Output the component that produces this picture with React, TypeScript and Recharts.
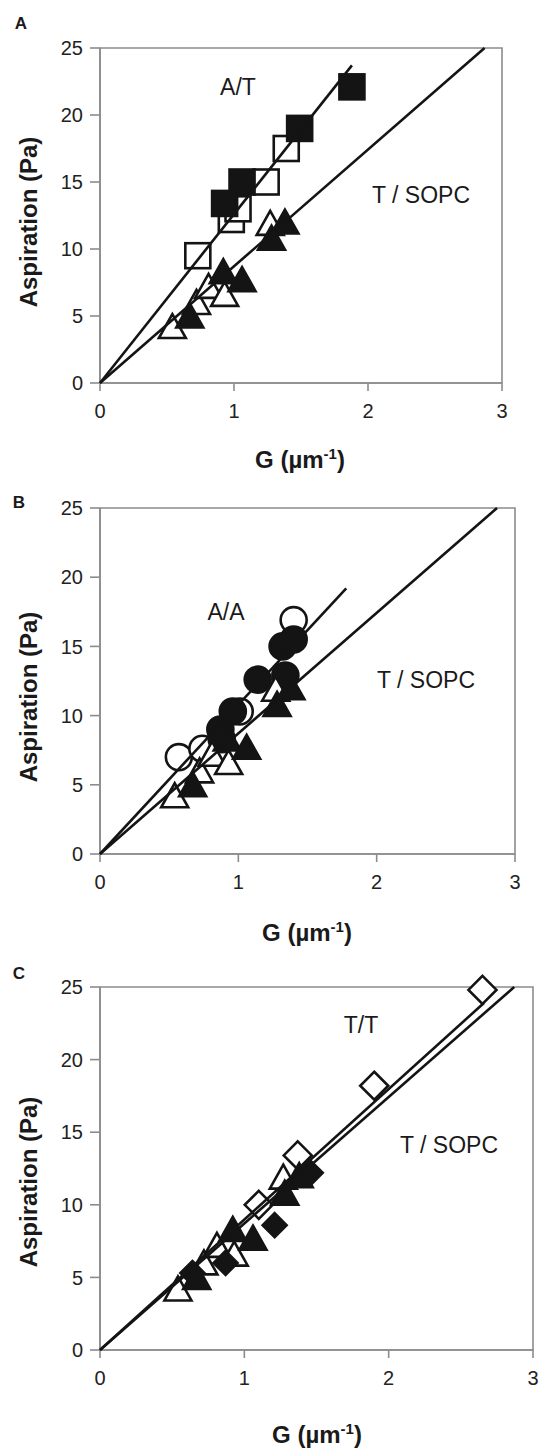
import { ScatterChart, Scatter, XAxis, YAxis, ReferenceArea } from "recharts";

// G (µm^-1) vs aspiration (Pa)
const xTicks = [0, 1, 2, 3];
const yTicks = [0, 5, 10, 15, 20, 25];

// T / SOPC reference set, shown in every panel
const sopcFilled = [
  { g: 0.67, p: 4.9 },
  { g: 0.92, p: 8.2 },
  { g: 1.06, p: 7.6 },
  { g: 1.28, p: 10.7 },
  { g: 1.38, p: 11.9 },
];
const sopcOpen = [
  { g: 0.54, p: 4.1 },
  { g: 0.72, p: 5.9 },
  { g: 0.81, p: 7.1 },
  { g: 0.93, p: 6.5 },
  { g: 1.27, p: 11.8 },
];
const sopcFit = [
  { g: 0, p: 0 },
  { g: 2.87, p: 25 },
];

// panel A: A/T
const atFilled = [
  { g: 0.93, p: 13.4 },
  { g: 1.06, p: 15.0 },
  { g: 1.49, p: 19.0 },
  { g: 1.88, p: 22.1 },
];
const atOpen = [
  { g: 0.73, p: 9.5 },
  { g: 0.98, p: 12.2 },
  { g: 1.03, p: 13.0 },
  { g: 1.24, p: 15.0 },
  { g: 1.39, p: 17.5 },
];
const atFit = [
  { g: 0, p: 0 },
  { g: 1.88, p: 23.7 },
];

// panel B: A/A
const aaFilled = [
  { g: 0.87, p: 9.0 },
  { g: 0.88, p: 8.3 },
  { g: 0.96, p: 10.3 },
  { g: 1.14, p: 12.6 },
  { g: 1.32, p: 15.0 },
  { g: 1.34, p: 12.9 },
  { g: 1.4, p: 15.5 },
];
const aaOpen = [
  { g: 0.57, p: 7.0 },
  { g: 0.74, p: 7.6 },
  { g: 1.01, p: 10.3 },
  { g: 1.4, p: 16.9 },
];
const aaFit = [
  { g: 0, p: 0 },
  { g: 1.78, p: 19.2 },
];

// panel C: T/T
const ttFilled = [
  { g: 0.64, p: 5.3 },
  { g: 0.87, p: 6.0 },
  { g: 1.21, p: 8.6 },
  { g: 1.46, p: 12.2 },
];
const ttOpen = [
  { g: 1.1, p: 10.0 },
  { g: 1.37, p: 13.4 },
  { g: 1.9, p: 18.2 },
  { g: 2.65, p: 24.8 },
];
const ttFit = [
  { g: 0, p: 0 },
  { g: 2.66, p: 23.9 },
];

const FONT = "'Liberation Sans', Arial, Helvetica, sans-serif";
const INK = "#141414";
const AXIS = "#8c8c8c";

const Square = ({ cx, cy, filled }: any) => (
  <rect x={cx - 12.5} y={cy - 12.5} width={25} height={25} fill={filled ? INK : "#fff"} stroke={INK} strokeWidth={2.6} />
);
const Triangle = ({ cx, cy, filled }: any) => (
  <polygon
    points={`${cx},${cy - 14} ${cx + 13.5},${cy + 10} ${cx - 13.5},${cy + 10}`}
    fill={filled ? INK : "#fff"}
    stroke={INK}
    strokeWidth={2.6}
    strokeLinejoin="miter"
  />
);
const Circle = ({ cx, cy, filled }: any) => (
  <circle cx={cx} cy={cy} r={13} fill={filled ? INK : "#fff"} stroke={INK} strokeWidth={2.6} />
);
const Diamond = ({ cx, cy, filled, size = 13 }: any) => (
  <polygon
    points={`${cx},${cy - size} ${cx + size},${cy} ${cx},${cy + size} ${cx - size},${cy}`}
    fill={filled ? INK : "#fff"}
    stroke={INK}
    strokeWidth={2.6}
  />
);
const None = () => <g />;

const Label = ({ x, y, children, style }: any) => (
  <div
    style={{
      position: "absolute",
      left: x,
      top: y,
      transform: "translate(-50%, -50%)",
      whiteSpace: "nowrap",
      fontFamily: FONT,
      color: "#1a1a1a",
      lineHeight: 1,
      ...style,
    }}
  >
    {children}
  </div>
);

const XTitle = ({ x, y }: any) => (
  <Label x={x} y={y} style={{ fontSize: 24, fontWeight: 700 }}>
    G (µm
    <span style={{ fontSize: 15, position: "relative", top: -9 }}>-1</span>)
  </Label>
);
const YTitle = ({ x, y }: any) => (
  <Label x={x} y={y} style={{ fontSize: 24, fontWeight: 700, transform: "translate(-50%, -50%) rotate(-90deg)" }}>
    Aspiration (Pa)
  </Label>
);

const tick = { fill: "#222", fontSize: 20, fontFamily: FONT };

const Panel = ({ top, height, margin, children, overlay }: any) => (
  <div style={{ position: "absolute", left: 0, top, width: 541, height }}>
    <ScatterChart width={541} height={height} margin={margin}>
      <XAxis
        type="number"
        dataKey="g"
        domain={[0, 3]}
        ticks={xTicks}
        height={40}
        tick={tick}
        tickSize={8}
        tickMargin={13}
        axisLine={{ stroke: AXIS, strokeWidth: 1.6 }}
        tickLine={{ stroke: AXIS, strokeWidth: 1.6 }}
      />
      <YAxis
        type="number"
        dataKey="p"
        domain={[0, 25]}
        ticks={yTicks}
        width={60}
        tick={tick}
        tickSize={10}
        tickMargin={7}
        axisLine={{ stroke: AXIS, strokeWidth: 1.6 }}
        tickLine={{ stroke: AXIS, strokeWidth: 1.6 }}
      />
      <ReferenceArea x1={0} x2={3} y1={0} y2={25} fill="none" stroke={AXIS} strokeWidth={1.6} />
      {children}
    </ScatterChart>
    {overlay}
  </div>
);

const lineProps = { stroke: INK, strokeWidth: 2.6 };

export default function App() {
  return (
    <div style={{ position: "absolute", left: 0, top: 0, width: 541, height: 1448, background: "#fff" }}>
      <Panel
        top={0}
        height={480}
        margin={{ top: 48, right: 39, bottom: 57, left: 40 }}
        overlay={
          <>
            <Label x={21} y={23} style={{ fontSize: 17, fontWeight: 700 }}>A</Label>
            <Label x={238} y={87} style={{ fontSize: 23 }}>A/T</Label>
            <Label x={421} y={195} style={{ fontSize: 23 }}>T / SOPC</Label>
            <YTitle x={29} y={222} />
            <XTitle x={300} y={460} />
          </>
        }
      >
        <Scatter data={sopcOpen} shape={(p: any) => <Triangle {...p} />} isAnimationActive={false} />
        <Scatter data={sopcFilled} shape={(p: any) => <Triangle {...p} filled />} isAnimationActive={false} />
        <Scatter data={atOpen} shape={(p: any) => <Square {...p} />} isAnimationActive={false} />
        <Scatter data={atFilled} shape={(p: any) => <Square {...p} filled />} isAnimationActive={false} />
        <Scatter data={sopcFit} line={lineProps} shape={None} isAnimationActive={false} />
        <Scatter data={atFit} line={lineProps} shape={None} isAnimationActive={false} />
      </Panel>

      <Panel
        top={480}
        height={480}
        margin={{ top: 28, right: 26, bottom: 66, left: 40 }}
        overlay={
          <>
            <Label x={19} y={22} style={{ fontSize: 17, fontWeight: 700 }}>B</Label>
            <Label x={226} y={132} style={{ fontSize: 23 }}>A/A</Label>
            <Label x={426} y={200} style={{ fontSize: 23 }}>T / SOPC</Label>
            <YTitle x={29} y={217} />
            <XTitle x={307} y={453} />
          </>
        }
      >
        <Scatter data={aaOpen} shape={(p: any) => <Circle {...p} />} isAnimationActive={false} />
        <Scatter data={aaFilled} shape={(p: any) => <Circle {...p} filled />} isAnimationActive={false} />
        <Scatter data={sopcOpen} shape={(p: any) => <Triangle {...p} />} isAnimationActive={false} />
        <Scatter data={sopcFilled} shape={(p: any) => <Triangle {...p} filled />} isAnimationActive={false} />
        <Scatter data={sopcFit} line={lineProps} shape={None} isAnimationActive={false} />
        <Scatter data={aaFit} line={lineProps} shape={None} isAnimationActive={false} />
      </Panel>

      <Panel
        top={960}
        height={488}
        margin={{ top: 27, right: 8, bottom: 58, left: 40 }}
        overlay={
          <>
            <Label x={19} y={13} style={{ fontSize: 17, fontWeight: 700 }}>C</Label>
            <Label x={361} y={65} style={{ fontSize: 23 }}>T/T</Label>
            <Label x={449} y={185} style={{ fontSize: 23 }}>T / SOPC</Label>
            <YTitle x={29} y={222} />
            <XTitle x={317} y={475} />
          </>
        }
      >
        <Scatter data={ttOpen} shape={(p: any) => <Diamond {...p} size={14} />} isAnimationActive={false} />
        <Scatter data={sopcOpen} shape={(p: any) => <Triangle {...p} />} isAnimationActive={false} />
        <Scatter data={sopcFilled} shape={(p: any) => <Triangle {...p} filled />} isAnimationActive={false} />
        <Scatter data={ttFilled} shape={(p: any) => <Diamond {...p} filled size={12} />} isAnimationActive={false} />
        <Scatter data={sopcFit} line={lineProps} shape={None} isAnimationActive={false} />
        <Scatter data={ttFit} line={lineProps} shape={None} isAnimationActive={false} />
      </Panel>
    </div>
  );
}
